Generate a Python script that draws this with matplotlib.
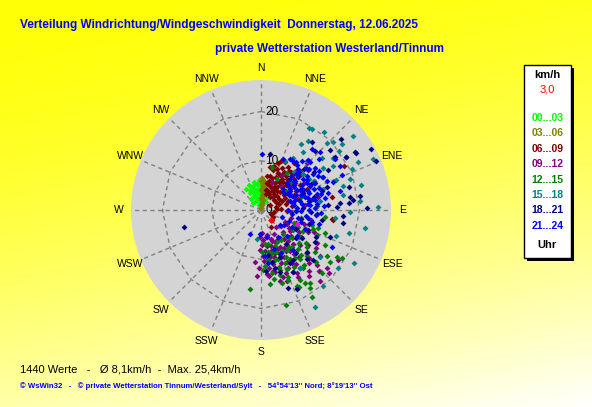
"""
Wind direction / wind speed distribution (WsWin32 style) for one day.
"""

import numpy as np
import matplotlib.pyplot as plt
from matplotlib.patches import Rectangle

# ---- data: (direction in degrees, speed in km/h), one list per 3 h block ----
h00_03 = [(324, 5.3), (331, 4.6), (336, 3.9), (341, 5.1), (346, 5.9), (351, 5.4),
          (356, 6.2), (339, 2.9), (349, 3.6), (1, 4.1), (6, 3.1), (11, 2.4),
          (19, 3.2), (29, 3.4), (36, 3.8), (318, 3.1), (328, 2.1), (344, 2.2),
          (354, 2.6), (2, 1.6), (16, 1.4), (309, 2.2), (338, 1.1), (352, 4.4),
          (358, 5.1), (334, 5.6), (346, 4.2), (24, 2.1), (4, 5.1), (14, 3.9),
          (26, 2.9), (349, 1.2), (333, 3.3), (343, 3.6), (8, 2.0), (355, 3.4),
          (327, 4.0), (21, 2.6), (12, 3.4), (340, 4.3)]
h03_06 = [(2, 6.5), (4, 6.2), (6, 6.0), (3, 5.5), (5, 5.0), (7, 5.5), (2, 4.5),
          (6, 4.5), (8, 4.0), (3, 4.0), (5, 3.5), (8, 3.0), (2, 3.0), (6, 2.5),
          (3, 2.0), (9, 2.0), (5, 1.5), (2, 1.0), (7, 1.0), (4, 0.5), (10, 5.0),
          (10, 3.5), (1, 5.8), (0, 4.0), (0, 2.5), (4, 4.8), (7, 3.3)]
h06_09 = [(17, 4.3), (19, 6.8), (21, 8.9), (23, 5.1), (24, 7.4), (26, 9.6), (27, 3.6),
          (28, 6.2), (29, 8.1), (31, 4.8), (32, 10.3), (33, 6.9), (34, 3.2), (36, 5.7),
          (37, 8.6), (38, 7.1), (39, 4.1), (41, 9.8), (42, 6.4), (43, 3.7), (44, 8.3),
          (46, 5.3), (47, 7.6), (48, 10.7), (49, 4.4), (51, 6.1), (52, 8.8), (53, 3.3),
          (54, 7.2), (56, 5.6), (57, 9.4), (58, 4.2), (59, 6.7), (61, 8.1), (62, 3.5),
          (63, 5.4), (66, 7.3), (67, 4.6), (68, 9.1), (71, 5.8), (72, 3.9), (74, 7.8),
          (77, 5.2), (79, 3.1), (82, 6.4), (86, 4.1), (92, 5.3), (12, 5.6), (14, 7.2),
          (16, 9.3), (22, 10.8), (18, 3.4), (13, 4.1), (24, 4.0), (35, 11.6),
          (45, 11.2), (29, 5.3), (33, 4.5), (41, 5.1), (52, 5.9), (38, 9.9),
          (15, 6.1), (17, 8.4), (20, 10.1), (22, 6.2), (25, 8.2), (27, 10.9), (30, 6.9),
          (31, 9.1), (34, 7.6), (36, 9.8), (37, 6.3), (40, 8.2), (42, 10.6), (45, 7.1),
          (47, 9.2), (50, 8.1), (26, 4.9), (19, 5.3), (23, 3.8), (35, 5.1),
          (62, 19.0), (80, 14.7), (97, 14.6), (98, 14.8), (10, 7.0), (12, 9.0),
          (50, 12.5), (65, 10.3), (60, 2.1), (100, 2.6), (112, 2.2), (121, 2.8),
          (132, 3.1), (150, 4.0), (88, 3.2)]
h09_12 = [(104, 6.3), (108, 9.1), (112, 11.7), (116, 5.4), (118, 7.9), (121, 13.2),
          (123, 6.7), (124, 9.8), (127, 11.9), (129, 5.2), (131, 8.1), (133, 12.9),
          (134, 6.3), (137, 9.4), (138, 14.6), (139, 4.7), (142, 7.6), (143, 11.2),
          (146, 6.8), (147, 13.1), (148, 9.7), (151, 5.6), (152, 8.4), (153, 11.8),
          (156, 7.1), (157, 10.3), (158, 13.7), (161, 6.2), (162, 9.2), (163, 12.4),
          (166, 5.3), (167, 8.6), (168, 11.3), (171, 7.4), (172, 10.1), (173, 13.6),
          (176, 6.1), (177, 9.3), (178, 4.6), (181, 8.2), (183, 5.4), (182, 11.8),
          (132, 10.6), (135, 13.7), (139, 8.3), (141, 12.3), (144, 10.1), (146, 14.3),
          (149, 8.9), (150, 12.4), (152, 6.9), (154, 10.6), (155, 13.1), (157, 8.7),
          (159, 11.6), (160, 6.8), (162, 14.2), (164, 9.9), (165, 7.5), (167, 12.9),
          (169, 9.7), (170, 5.6), (172, 11.9), (174, 8.4), (175, 13.1), (177, 10.4),
          (179, 7.1), (120, 8.8), (115, 10.6), (125, 13.6), (110, 7.6), (118, 5.9),
          (150, 14.8), (142, 15.7), (165, 14.9), (128, 15.1), (136, 17.1), (144, 16.6),
          (186.6, 10.7), (183.5, 13.5), (160, 15.4), (155, 17.5), (151, 15.6),
          (134.5, 16.0), (131, 17.8), (133, 18.8), (123, 18.6), (140, 18.7),
          (152.7, 14.2), (31, 8.2), (44, 13.4), (52, 8.1), (39, 6.3), (58, 10.4),
          (68, 7.2), (83, 9.1), (94, 6.2), (101, 10.3), (21, 6.1), (77, 11.8),
          (145, 10.2), (159, 8.1), (169, 12.6), (126, 7.4)]
h12_15 = [(102, 8.3), (106, 10.8), (111, 7.1), (114, 12.4), (117, 9.6), (119, 14.8),
          (122, 7.7), (126, 11.3), (128, 13.9), (132, 8.6), (133, 15.4), (136, 10.9),
          (137, 6.6), (141, 12.7), (143, 9.1), (144, 14.6), (147, 7.3), (149, 11.6),
          (151, 16.2), (153, 9.4), (156, 13.1), (158, 7.8), (159, 15.3), (161, 10.6),
          (163, 12.2), (167, 8.9), (169, 14.2), (172, 10.3), (174, 6.9), (178, 12.1),
          (124, 9.3), (129, 12.1), (131, 10.2), (134, 7.8), (138, 12.2), (140, 9.9),
          (142, 14.1), (145, 11.9), (147, 9.6), (150, 13.4), (152, 10.7), (154, 7.2),
          (156, 11.8), (158, 14.7), (160, 9.1), (162, 12.8), (165, 10.6), (168, 7.1),
          (170, 12.9), (171, 8.7), (173, 15.1), (176, 11.4), (179, 8.5), (115, 8.4),
          (110, 11.2), (135, 13.1), (125, 16.4), (155, 17.1), (148, 18.6),
          (107.5, 12.2), (109.8, 13.9), (121.7, 18.2), (120.6, 19.2), (127, 17.6),
          (135.5, 17.8), (146, 17.9), (149, 17.4), (149.6, 20.6), (154, 17.4),
          (163.7, 13.8), (164, 15.5), (165, 19.9), (166, 9.1), (188, 16.3),
          (14, 9.0), (28, 7.1), (35, 9.2), (44, 11.1), (53, 6.4), (61, 12.2),
          (72, 8.6), (79, 10.4), (86, 11.3), (91, 7.2), (96, 13.1), (47, 8.3)]
h15_18 = [(30, 19.3), (32, 19.4), (39, 20.3), (51, 24.0), (34, 16.9), (31, 15.7),
          (44.6, 19.2), (46.7, 20.0), (51, 21.2), (53, 19.8), (65.5, 25.1), (63.7, 22.0),
          (66, 20.3), (71, 19.2), (73.7, 17.4), (79.6, 17.0), (88.5, 23.7), (84.8, 20.1),
          (61, 12.3), (49.6, 16.4), (43, 13.7), (31.6, 12.5), (54, 18.1), (58.6, 17.2),
          (150.6, 22.5), (119.7, 21.8), (100, 21.4), (105, 18.4), (141, 19.9),
          (188, 6.0), (127, 19.5), (41, 10.3), (49, 11.2), (62, 14.1), (71, 13.3),
          (81, 12.2), (96, 15.1), (109, 16.2), (129, 15.3), (146, 14.2), (26, 11.1),
          (36, 14.5), (56, 15.2), (68, 16.5), (91, 18.1), (76, 21.0), (57, 11.6)]
h18_21 = [(48.4, 21.8), (36.9, 17.3), (59, 22.6), (60.7, 25.5), (66.7, 25.4),
          (42.5, 16.3), (49, 18.7), (54.4, 18.6), (57.8, 20.3), (59, 15.9), (75, 18.4),
          (82, 20.4), (83.7, 18.7), (85.5, 18.0), (89, 21.6), (88, 15.5), (9, 11.5),
          (58.3, 22.5), (58, 20.4), (85, 16.2), (82, 18.3), (257.5, 16.1), (99, 16.9),
          (155.5, 17.7), (111, 15.1), (94, 16.6), (158, 10.3), (161, 16.7),
          (132, 12.7), (134, 14.7), (46, 12.1), (54, 13.2), (64, 12.3), (71, 14.2),
          (76, 11.1), (94, 11.3), (106, 10.2), (116, 12.4), (124, 10.1), (141, 11.3),
          (151, 12.2), (166, 12.1), (171, 9.2), (63, 9.4), (87, 8.6),
          (62, 11.4), (68, 9.1), (73, 12.9), (79, 9.9), (86, 13.6), (92, 10.1),
          (99, 12.6), (103, 8.3), (113, 10.4), (121, 12.8), (128, 9.1), (137, 13.6),
          (144, 8.6), (153, 14.1), (157, 9.8), (163, 13.1), (168, 10.8), (175, 12.4),
          (147, 12.1), (118, 8.1)]
h21_24 = [(1, 11.4), (23, 11.3), (32, 12.0), (43, 14.0), (48.7, 15.7), (55.4, 18.3),
          (60.6, 18.3), (66.6, 18.0), (68.7, 15.8), (76.5, 16.6), (45.5, 16.9),
          (40, 16.2), (204.6, 5.4), (182, 4.9), (117.5, 16.3), (175, 9.4),
          (36, 12.1), (41, 9.2),
          (42, 11.3), (44, 7.7), (47, 6.2), (48, 10.1), (49, 12.8), (52, 8.4), (53, 5.9),
          (54, 11.6), (57, 7.1), (58, 9.7), (59, 13.4), (62, 6.5), (63, 8.9), (64, 11.1),
          (67, 7.8), (68, 10.2), (69, 12.6), (72, 6.1), (73, 9.3), (74, 11.8), (77, 8.2),
          (78, 10.7), (79, 13.2), (82, 6.8), (83, 9.6), (84, 11.4), (87, 7.4),
          (88, 10.9), (89, 5.5), (92, 8.1), (93, 12.3), (97, 6.3), (98, 9.2),
          (102, 7.6), (103, 10.6), (107, 8.4), (112, 6.1), (113, 9.8), (118, 7.2),
          (122, 5.6), (126, 9.1), (135, 7.4), (142, 10.4), (148, 6.5), (155, 9.6),
          (162, 8.3), (168, 5.7), (172, 10.8), (56, 14.2), (46, 13.9), (66, 14.6),
          (76, 14.1), (108, 4.4), (128, 4.8),
          (39, 11.7), (43, 8.6), (45, 10.8), (47, 12.4), (50, 9.1), (51, 7.3),
          (53, 10.6), (55, 12.9), (56, 8.2), (58, 6.4), (60, 10.9), (61, 8.3),
          (63, 12.1), (65, 9.4), (66, 6.9), (68, 11.6), (70, 8.7), (71, 10.4), (73, 7.2),
          (75, 12.7), (76, 9.8), (78, 6.6), (80, 11.2), (81, 8.4), (84, 10.1),
          (86, 12.9), (90, 9.8), (91, 7.1), (95, 11.2), (100, 9.7), (104, 12.1),
          (40, 13.1), (52, 13.8), (30, 11.9), (62, 14.3), (57, 11.2),
          (49, 8.8), (44, 10.2)]
last_value = (135, 3.0)
marked_value = (111, 7.9)

blocks = [h00_03, h03_06, h06_09, h09_12, h12_15, h15_18, h18_21, h21_24]
block_labels = ["00...03", "03...06", "06...09", "09...12",
                "12...15", "15...18", "18...21", "21...24"]
block_colors = ["#00FF00", "#808000", "#800000", "#800080",
                "#008000", "#008080", "#000080", "#0000FF"]
directions = ["N", "NNE", "NE", "ENE", "E", "ESE", "SE", "SSE",
              "S", "SSW", "SW", "WSW", "W", "WNW", "NW", "NNW"]
ring_values = [0, 10, 20]
r_max = 26.4

W, H = 592, 407
fig = plt.figure(figsize=(W / 100, H / 100), dpi=100)
plt.rcParams["font.family"] = ["Liberation Sans", "DejaVu Sans"]

# background gradient: yellow at the top, nearly white at the bottom right
bg = fig.add_axes([0, 0, 1, 1], zorder=-10)
yy, xx = np.mgrid[0:H, 0:W]
t = np.clip((yy + 0.2 * xx) / (H + 0.2 * W), 0, 1) ** 1.6
img = np.dstack([np.ones_like(t), np.ones_like(t), 0.02 + 0.98 * t])
bg.imshow(img, aspect="auto", extent=(0, W, H, 0))
bg.set_xlim(0, W)
bg.set_ylim(H, 0)
bg.axis("off")

# polar plot
cx, cy, rad = 261, 210, 130
ax = fig.add_axes([(cx - rad) / W, (H - cy - rad) / H, 2 * rad / W, 2 * rad / H],
                  projection="polar")
ax.set_theta_zero_location("N")
ax.set_theta_direction(-1)
ax.set_facecolor("#D4D4D4")
ax.set_ylim(0, r_max)
ax.set_xticks([])
ax.set_yticks([])
ax.grid(False)
ax.spines["polar"].set_visible(False)

spokes = np.deg2rad(np.arange(0, 360, 22.5))
grid_kw = dict(color="#808080", lw=1, ls=(0, (3, 2.5)), zorder=1)
for th in spokes:
    ax.plot([th, th], [0, r_max], **grid_kw)
ring_th = np.append(spokes, spokes[0])
for rv in ring_values[1:]:
    ax.plot(ring_th, [rv] * len(ring_th), **grid_kw)
for rv in ring_values:
    ax.annotate(str(rv), (0, rv), xytext=(3, 0), textcoords="offset points",
                ha="left", va="center", fontsize=8.5, zorder=2)
for th, name in zip(spokes, directions):
    ax.text(th, 28.8, name, ha="center", va="center", fontsize=7.5,
            clip_on=False)

for pts, col in zip(blocks, block_colors):
    d = np.deg2rad([p[0] for p in pts])
    s = [p[1] for p in pts]
    ax.scatter(d, s, marker="D", s=9, color=col, linewidths=0, zorder=3)
ax.scatter(np.deg2rad(marked_value[0]), marked_value[1], marker="D", s=9,
           color="#FF00FF", linewidths=0, zorder=4)
ax.scatter(np.deg2rad(last_value[0]), last_value[1], marker="D", s=12,
           color="#FF0000", linewidths=0, zorder=4)

# titles and footer (pixel coordinates on the background axes)
bg.text(20, 25, "Verteilung Windrichtung/Windgeschwindigkeit  Donnerstag, 12.06.2025",
        color="#0000FF", fontsize=8.5, fontweight="bold", va="center")
bg.text(215, 49, "private Wetterstation Westerland/Tinnum",
        color="#0000FF", fontsize=8.5, fontweight="bold", va="center")
bg.text(20, 369, "1440 Werte   -   Ø 8,1km/h  -  Max. 25,4km/h",
        fontsize=8, va="center")
bg.text(20, 386, "© WsWin32   -   © private Wetterstation Tinnum/Westerland/Sylt   -   "
        "54°54'13'' Nord; 8°19'13'' Ost", color="#0000FF", fontsize=5.6,
        fontweight="bold", va="center")

# legend box with shadow
bg.add_patch(Rectangle((527, 68), 47, 193, facecolor="black", zorder=1))
bg.add_patch(Rectangle((524, 65), 47, 193, facecolor="white",
                       edgecolor="black", lw=1, zorder=2))
bg.text(547.5, 75, "km/h", fontsize=8, fontweight="bold", ha="center",
        va="center", zorder=3)
bg.text(547.5, 90, f"{last_value[1]:.1f}".replace(".", ","), color="#FF0000",
        fontsize=8, ha="center", va="center", zorder=3)
for i, (lab, col) in enumerate(zip(block_labels, block_colors)):
    bg.text(547.5, 118 + i * 15.4, lab, color=col, fontsize=7.5,
            fontweight="bold", ha="center", va="center", zorder=3)
bg.text(547.5, 245, "Uhr", fontsize=8, fontweight="bold", ha="center",
        va="center", zorder=3)

fig.savefig("out.png", dpi=100)
